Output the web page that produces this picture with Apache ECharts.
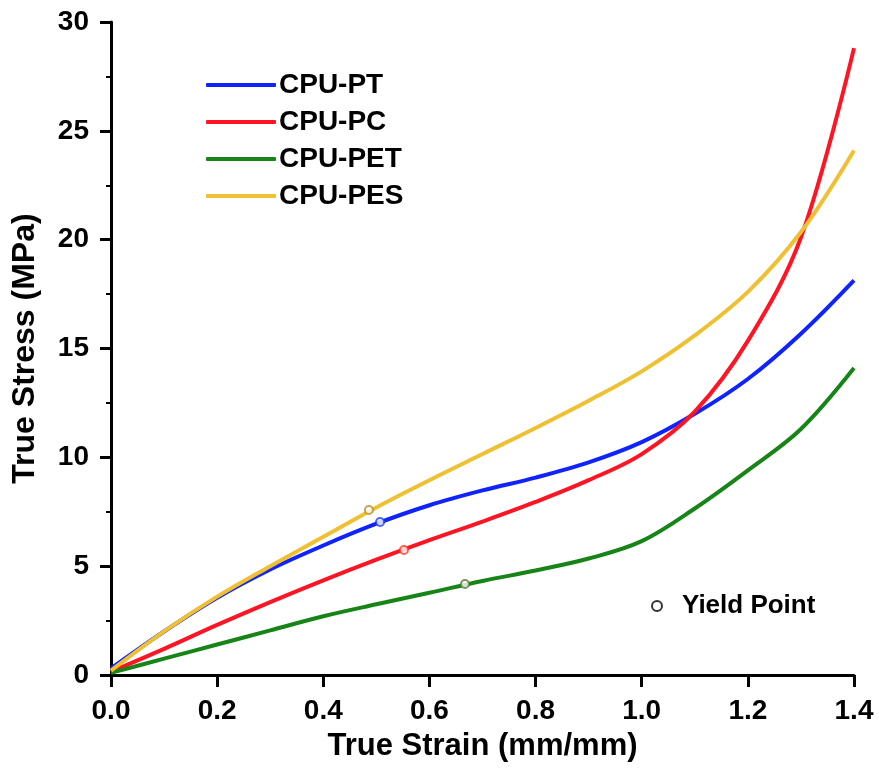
<!DOCTYPE html>
<html>
<head>
<meta charset="utf-8">
<script src="https://cdn.jsdelivr.net/npm/echarts@6/dist/echarts.min.js"></script>
<style>
  html, body { margin: 0; padding: 0; background: #fff; }
  #chart { width: 879px; height: 771px; }
</style>
</head>
<body>
<div id="chart"></div>
<script>
// shared strain values (mm/mm)
const strain = [0, 0.1, 0.2, 0.3, 0.4, 0.5, 0.6, 0.7, 0.8, 0.9, 1.0, 1.1, 1.2, 1.3, 1.4]

// true stress (MPa) per material
const stressPT  = [0.3, 2.0, 3.55, 4.85, 5.95, 6.95, 7.8, 8.48, 9.07, 9.77, 10.7, 12.0, 13.6, 15.68, 18.13]
const stressPC  = [0.15, 1.2, 2.3, 3.35, 4.35, 5.3, 6.2, 7.05, 7.95, 8.95, 10.15, 12.1, 15.35, 20.1, 28.8]
const stressPET = [0.1, 0.75, 1.4, 2.05, 2.7, 3.25, 3.78, 4.32, 4.8, 5.35, 6.15, 7.65, 9.4, 11.3, 14.1]
const stressPES = [0.2, 2.0, 3.6, 5.0, 6.35, 7.7, 8.95, 10.15, 11.35, 12.6, 13.95, 15.6, 17.6, 20.35, 24.1]

// yield points: PES, PT, PC, PET
const yieldStrain = [0.486, 0.507, 0.552, 0.667]
const yieldStress = [7.58, 7.03, 5.74, 4.18]

const names = ['CPU-PT', 'CPU-PC', 'CPU-PET', 'CPU-PES']
const colors = ['#0f23ff', '#ff1424', '#178417', '#efc032']
const yieldBorder = ['#b8902c', '#1a3cff', '#ff3a22', '#5f7a3a']

const font = 'Liberation Sans, Arial, sans-serif'
const pairs = arr => strain.map((x, i) => [x, arr[i]])

const chart = echarts.init(document.getElementById('chart'))

const lineSeries = [stressPT, stressPC, stressPET, stressPES].map((arr, i) => ({
  name: names[i],
  type: 'line',
  data: pairs(arr),
  smooth: 0.35,
  symbol: 'none',
  lineStyle: { color: colors[i], width: 4 },
  itemStyle: { color: colors[i] },
  z: 2
}))

const option = {
  backgroundColor: '#fff',
  animation: false,
  grid: { left: 111, right: 25, top: 22, bottom: 96 },
  legend: [
    {
      data: names,
      orient: 'vertical',
      left: 201,
      top: 66,
      icon: 'roundRect',
      itemWidth: 70,
      itemHeight: 4,
      itemGap: 9,
      textStyle: { fontFamily: font, fontWeight: 'bold', fontSize: 28, lineHeight: 28, color: '#000', padding: [0, 0, 0, -2] }
    },
    {
      data: ['Yield Point'],
      left: 646,
      top: 588,
      itemWidth: 40,
      itemHeight: 10,
      icon: 'circle',
      textStyle: { fontFamily: font, fontWeight: 'bold', fontSize: 26, color: '#000' }
    }
  ],
  xAxis: {
    type: 'value',
    min: 0,
    max: 1.4,
    interval: 0.2,
    name: 'True Strain (mm/mm)',
    nameLocation: 'middle',
    nameGap: 56,
    nameTextStyle: { fontFamily: font, fontWeight: 'bold', fontSize: 31, color: '#000' },
    axisLine: { lineStyle: { color: '#000', width: 3 } },
    axisTick: { inside: false, length: 12, lineStyle: { color: '#000', width: 3 } },
    axisLabel: {
      margin: 22,
      fontFamily: font, fontWeight: 'bold', fontSize: 28, color: '#000',
      formatter: v => v.toFixed(1)
    },
    splitLine: { show: false }
  },
  yAxis: {
    type: 'value',
    min: 0,
    max: 30,
    interval: 5,
    name: 'True Stress (MPa)',
    nameLocation: 'middle',
    nameGap: 70,
    nameTextStyle: { fontFamily: font, fontWeight: 'bold', fontSize: 32, color: '#000' },
    axisLine: { show: true, lineStyle: { color: '#000', width: 3 } },
    axisTick: { show: true, length: 11, lineStyle: { color: '#000', width: 3 } },
    minorTick: { show: true, splitNumber: 2, length: 5, lineStyle: { color: '#000', width: 2 } },
    axisLabel: { margin: 22, fontFamily: font, fontWeight: 'bold', fontSize: 28, color: '#000' },
    splitLine: { show: false }
  },
  series: [
    ...lineSeries,
    {
      name: 'Yield Point',
      type: 'scatter',
      symbol: 'circle',
      symbolSize: 8,
      z: 5,
      itemStyle: { color: '#fff', borderColor: '#000', borderWidth: 2.5 },
      data: yieldStrain.map((x, i) => ({
        value: [x, yieldStress[i]],
        itemStyle: { color: '#fff', borderColor: yieldBorder[i], borderWidth: 2 }
      }))
    }
  ]
}

chart.setOption(option)
</script>
</body>
</html>
